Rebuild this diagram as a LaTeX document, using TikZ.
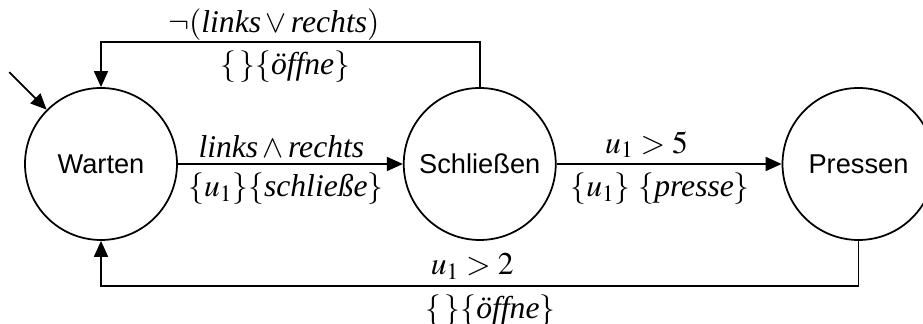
\documentclass[tikz,border=0pt]{standalone}
\usepackage{mathptmx}
\usepackage{fontspec}
\setmainfont{Liberation Serif}
\setsansfont{Liberation Sans}
\usetikzlibrary{automata,positioning,arrows.meta}

\begin{document}
\begin{tikzpicture}[>={Triangle[length=3.2mm,width=2.8mm]},line width=1pt,node distance=4.5cm,every state/.style={draw,minimum size=3.04cm,inner sep=1pt,font=\sffamily\fontsize{15.5}{18}\selectfont},lbl/.style={font=\fontsize{18}{21}\selectfont,inner sep=3pt}]
\useasboundingbox (-2.02,-3.2) rectangle (16.44,3.28);
\node[state] (q0) {Warten}; \node[state,right=of q0] (q1) {Schließen}; \node[state,right=of q1] (q2) {Pressen};
\coordinate[above left=0.75cm and 0.75cm of q0.135] (s0);
\draw[->] (s0) -- (q0.135);
\path[->] (q0) edge node[lbl,above,pos=0.46] {$\textit{links}\wedge\textit{rechts}$} node[lbl,below=1.5pt,pos=0.48] {$\{u_1\}\{\textit{schließe}\}$} (q1)
(q1) edge node[lbl,above,pos=0.4] {$u_1>5$} node[lbl,below=1.5pt,pos=0.46] {$\{u_1\}\ \{\textit{presse}\}$} (q2);
\draw[->] (q1.north) -- ++(0,0.9) -| node[lbl,above=-2.5pt,pos=0.272] {$\neg(\textit{links}\vee\textit{rechts})$} node[lbl,below=1.5pt,pos=0.257] {$\{\,\}\{\textit{öffne}\}$} (q0.north);
\draw[->] (q2.south) -- ++(0,-0.9) -| node[lbl,above,pos=0.255] {$u_1>2$} node[lbl,below=1.5pt,pos=0.243] {$\{\,\}\{\textit{öffne}\}$} (q0.south);
\end{tikzpicture}
\end{document}
